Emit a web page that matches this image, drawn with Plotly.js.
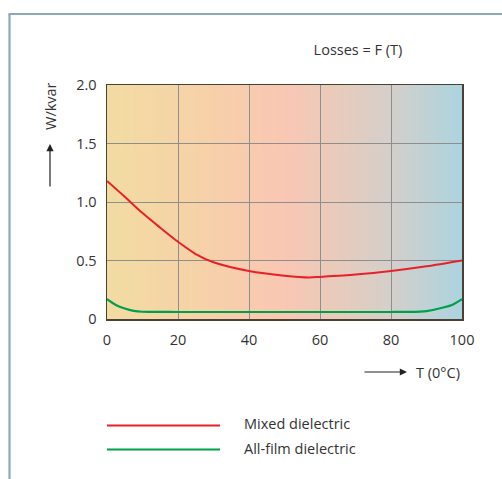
<!DOCTYPE html>
<html>
<head>
<meta charset="utf-8">
<script src="https://cdn.plot.ly/plotly-3.0.1.min.js"></script>
<style>html,body{margin:0;padding:0;background:#fff;}#chart{width:502px;height:479px;}</style>
</head>
<body>
<div id="chart"></div>
<script>
// ---- data ----
var mixedT    = [0, 5, 10, 15, 20, 25, 30, 40, 50, 57, 60, 70, 80, 90, 100];
var mixedLoss = [1.18, 1.045, 0.905, 0.78, 0.66, 0.555, 0.485, 0.41, 0.37, 0.355, 0.36, 0.38, 0.41, 0.45, 0.50];
var filmT     = [0, 2.5, 5, 7.5, 10, 20, 40, 60, 80, 85, 90, 95, 97.5, 100];
var filmLoss  = [0.17, 0.12, 0.09, 0.07, 0.062, 0.06, 0.06, 0.06, 0.06, 0.061, 0.068, 0.10, 0.125, 0.17];
var xTickVals = [0, 20, 40, 60, 80, 100];
var xTickText = ['0', '20', '40', '60', '80', '100'];
var yTickVals = [0, 0.5, 1.0, 1.5, 2.0];
var yTickText = ['0', '0.5', '1.0', '1.5', '2.0'];
var seriesNames = ['Mixed dielectric', 'All-film dielectric'];

// ---- layout geometry (pixels) ----
var W = 502, H = 479;
var L = 107, R = 462, T = 85, B = 319;
function px(x) { return (x - L) / (R - L); }
function py(y) { return (B - y) / (B - T); }

// background gradient image
var cv = document.createElement('canvas');
cv.width = 355; cv.height = 2;
var ctx = cv.getContext('2d');
var g = ctx.createLinearGradient(0, 0, 355, 0);
g.addColorStop(0, '#F2DCA2');
g.addColorStop(0.25, '#F6D2A8');
g.addColorStop(0.5, '#F9C7B3');
g.addColorStop(0.68, '#E4CCBE');
g.addColorStop(0.8, '#D4CFCB');
g.addColorStop(1, '#ACD4DF');
ctx.fillStyle = g;
ctx.fillRect(0, 0, 355, 2);
var bgURL = cv.toDataURL();

var FONT = '"Open Sans", "Noto Sans", sans-serif';
var FS = 14.5;
var TXT = '#333333';
var RED = '#E8202A', GREEN = '#00A04B';

var traces = [
  {x: mixedT, y: mixedLoss, name: seriesNames[0], mode: 'lines',
   line: {color: RED, width: 2, shape: 'spline', smoothing: 0.8}, hoverinfo: 'skip'},
  {x: filmT, y: filmLoss, name: seriesNames[1], mode: 'lines',
   line: {color: GREEN, width: 2.2, shape: 'spline', smoothing: 0.6}, hoverinfo: 'skip'}
];

var layout = {
  width: W, height: H,
  margin: {l: L, r: W - R, t: T, b: H - B, pad: 0},
  paper_bgcolor: '#ffffff',
  plot_bgcolor: 'rgba(0,0,0,0)',
  showlegend: false,
  font: {family: FONT, size: FS, color: TXT},
  title: {text: 'Losses = F (T)', font: {family: FONT, size: FS, color: TXT},
          xref: 'paper', x: px(358), xanchor: 'center',
          yref: 'container', y: 1 - 50 / H, yanchor: 'middle'},
  xaxis: {range: [0, 100], tickvals: xTickVals, ticktext: xTickText,
          showgrid: true, gridcolor: '#8E8E8E', gridwidth: 1, zeroline: false,
          showline: true, mirror: true, linecolor: '#4A4034', linewidth: 1.5,
          ticks: 'outside', ticklen: 7, tickcolor: 'rgba(0,0,0,0)',
          tickfont: {family: FONT, size: FS, color: TXT}, fixedrange: true},
  yaxis: {range: [0, 2], tickvals: yTickVals, ticktext: yTickText,
          showgrid: true, gridcolor: '#8E8E8E', gridwidth: 1, zeroline: false,
          showline: true, mirror: true, linecolor: '#4A4034', linewidth: 1.5,
          ticks: 'outside', ticklen: 6, tickcolor: 'rgba(0,0,0,0)',
          tickfont: {family: FONT, size: FS, color: TXT}, fixedrange: true},
  images: [{source: bgURL, xref: 'x', yref: 'y', x: 0, y: 2, sizex: 100, sizey: 2,
            sizing: 'stretch', xanchor: 'left', yanchor: 'top', layer: 'below'}],
  shapes: [
    // outer frame (left + top)
    {type: 'line', xref: 'paper', yref: 'paper', x0: px(9.5), x1: px(9.5), y0: py(14), y1: py(H + 5),
     line: {color: '#8CA7BE', width: 2.2}},
    {type: 'line', xref: 'paper', yref: 'paper', x0: px(8.5), x1: px(W + 5), y0: py(14), y1: py(14),
     line: {color: '#8CA7BE', width: 2.2}},
    // legend lines
    {type: 'line', xref: 'paper', yref: 'paper', x0: px(107), x1: px(220), y0: py(425.5), y1: py(425.5),
     line: {color: RED, width: 2}},
    {type: 'line', xref: 'paper', yref: 'paper', x0: px(107), x1: px(220), y0: py(449.5), y1: py(449.5),
     line: {color: GREEN, width: 2}}
  ],
  annotations: [
    {text: 'W/kvar', xref: 'paper', yref: 'paper', x: px(50), y: py(106), textangle: -90,
     showarrow: false, xanchor: 'center', yanchor: 'middle', font: {family: FONT, size: FS, color: TXT}},
    {text: '', xref: 'paper', yref: 'paper', x: px(50), y: py(144), ax: 0, ay: 44,
     showarrow: true, arrowhead: 2, arrowsize: 1.2, arrowwidth: 1.2, arrowcolor: '#222'},
    {text: 'T (0°C)', xref: 'paper', yref: 'paper', x: px(414), y: py(372),
     showarrow: false, xanchor: 'left', yanchor: 'middle', font: {family: FONT, size: FS, color: TXT}},
    {text: '', xref: 'paper', yref: 'paper', x: px(407), y: py(372), ax: -44, ay: 0,
     showarrow: true, arrowhead: 2, arrowsize: 1.2, arrowwidth: 1.2, arrowcolor: '#222'},
    {text: seriesNames[0], xref: 'paper', yref: 'paper', x: px(242), y: py(423.5),
     showarrow: false, xanchor: 'left', yanchor: 'middle', font: {family: FONT, size: FS, color: TXT}},
    {text: seriesNames[1], xref: 'paper', yref: 'paper', x: px(242), y: py(448),
     showarrow: false, xanchor: 'left', yanchor: 'middle', font: {family: FONT, size: FS, color: TXT}}
  ]
};

Plotly.newPlot('chart', traces, layout, {staticPlot: true, displayModeBar: false});
</script>
</body>
</html>
